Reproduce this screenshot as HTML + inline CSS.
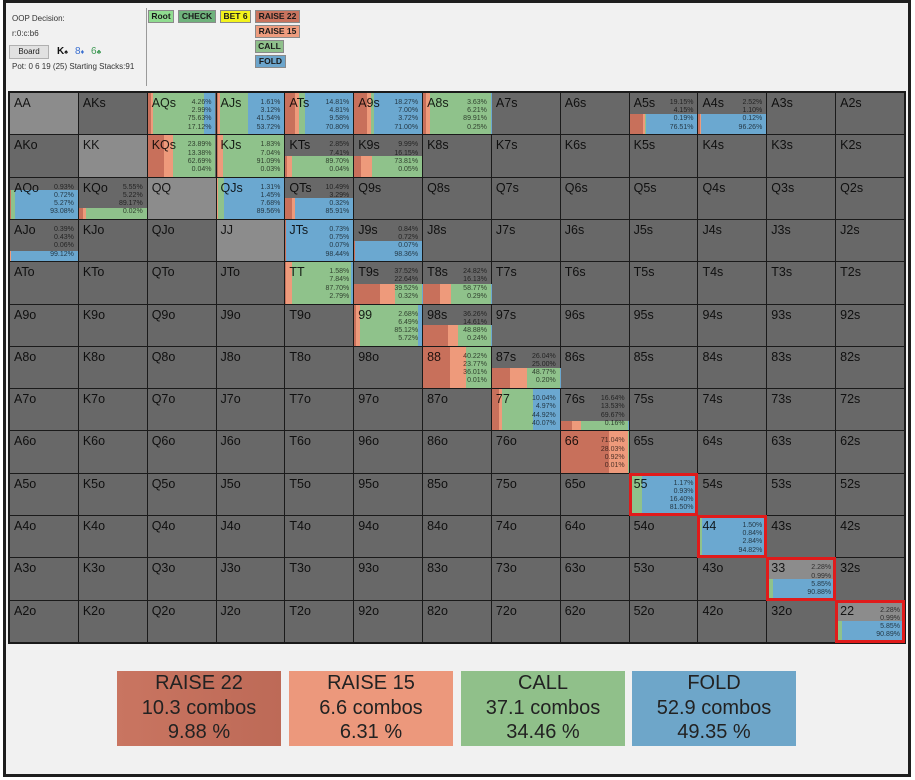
<!DOCTYPE html>
<html><head><meta charset="utf-8">
<style>
*{margin:0;padding:0;box-sizing:border-box}
html,body{width:915px;height:780px;overflow:hidden;background:#fff;font-family:"Liberation Sans",Arial,sans-serif}
.frame{position:absolute;left:3px;top:0;width:908px;height:777px;border:3px solid #1e1e1e;background:#f1f1f1}
.t{position:absolute;font-size:8px;color:#333;white-space:nowrap;line-height:10px}
.sep{position:absolute;left:146px;top:8px;width:1px;height:78px;background:#9a9a9a}
.btn{position:absolute;height:13px;font-size:8.5px;font-weight:bold;line-height:11px;text-align:center;border:1px solid #8a8a8a;color:#1a1a1a}
.grid{position:absolute;left:8px;top:91px;width:898px;height:553px;border:2px solid #1a1a1a;background:#1a1a1a;display:grid;grid-template-columns:repeat(13,1fr);grid-template-rows:repeat(13,1fr);gap:1px}
.c{position:relative;background:#686868;overflow:visible}
.p{background:#8c8c8c}
.b{position:absolute;left:0;right:0;bottom:0;display:flex}
.b i{display:block;height:100%;flex:none}
.r{background:#c8705b}.s{background:#ee9a7b}.g{background:#8fc28b}.f{background:#6ba8d0}
.l{position:absolute;left:4px;top:3px;font-size:12.5px;line-height:14px;color:rgba(0,0,0,.85);z-index:1}
.v{position:absolute;right:4px;top:6px;font-size:7px;line-height:8.2px;text-align:right;color:rgba(0,0,0,.68);z-index:1}
.h{z-index:3}
.h::after{content:"";position:absolute;left:-1px;top:-1px;right:-1px;bottom:-1px;border:3px solid #e01b1b;z-index:5}
.box{position:absolute;top:671px;width:164px;height:75px;text-align:center;font-size:20px;line-height:24.5px;color:#222;padding-top:0}
</style></head><body>
<div class="frame"></div>
<div class="t" style="left:12px;top:14px">OOP Decision:</div>
<div class="t" style="left:12px;top:29px">r:0:c:b6</div>
<div style="position:absolute;left:9px;top:45px;width:40px;height:14px;background:#e1e1e1;border:1px solid #b0b0b0;font-size:8px;line-height:12px;text-align:center;color:#222">Board</div>
<div class="t" style="left:57px;top:46px;font-size:10px;font-weight:bold;color:#111;line-height:12px">K<span style="font-size:7px">♠</span></div>
<div class="t" style="left:75px;top:46px;font-size:10px;color:#3a6fd0;line-height:12px">8<span style="font-size:7px">♦</span></div>
<div class="t" style="left:91px;top:46px;font-size:10px;color:#3f9a55;line-height:12px">6<span style="font-size:7px">♣</span></div>
<div class="t" style="left:12px;top:62px">Pot: 0 6 19 (25) Starting Stacks:91</div>
<div class="sep"></div>
<div class="btn" style="left:148px;top:10px;width:26px;background:#90dc90">Root</div>
<div class="btn" style="left:178px;top:10px;width:38px;background:#6fb27c">CHECK</div>
<div class="btn" style="left:220px;top:10px;width:31px;background:#f3f31c">BET 6</div>
<div class="btn" style="left:255px;top:10px;width:45px;background:#c9735e">RAISE 22</div>
<div class="btn" style="left:255px;top:25px;width:45px;background:#ee9c7e">RAISE 15</div>
<div class="btn" style="left:255px;top:40px;width:29px;background:#8fc08b">CALL</div>
<div class="btn" style="left:255px;top:55px;width:31px;background:#6ca5cc">FOLD</div>

<div class="grid">
<!-- Row A -->
<div class="c p"><span class="l">AA</span></div>
<div class="c"><span class="l">AKs</span></div>
<div class="c"><div class="b" style="height:100%"><i class="r" style="width:4.26%"></i><i class="s" style="width:2.99%"></i><i class="g" style="width:75.63%"></i><i class="f" style="width:17.12%"></i></div><span class="l">AQs</span><span class="v">4.26%<br>2.99%<br>75.63%<br>17.12%</span></div>
<div class="c"><div class="b" style="height:100%"><i class="r" style="width:1.61%"></i><i class="s" style="width:3.12%"></i><i class="g" style="width:41.54%"></i><i class="f" style="width:53.72%"></i></div><span class="l">AJs</span><span class="v">1.61%<br>3.12%<br>41.54%<br>53.72%</span></div>
<div class="c"><div class="b" style="height:100%"><i class="r" style="width:14.81%"></i><i class="s" style="width:4.81%"></i><i class="g" style="width:9.58%"></i><i class="f" style="width:70.80%"></i></div><span class="l">ATs</span><span class="v">14.81%<br>4.81%<br>9.58%<br>70.80%</span></div>
<div class="c"><div class="b" style="height:100%"><i class="r" style="width:18.27%"></i><i class="s" style="width:7.00%"></i><i class="g" style="width:3.72%"></i><i class="f" style="width:71.00%"></i></div><span class="l">A9s</span><span class="v">18.27%<br>7.00%<br>3.72%<br>71.00%</span></div>
<div class="c"><div class="b" style="height:100%"><i class="r" style="width:3.63%"></i><i class="s" style="width:6.21%"></i><i class="g" style="width:89.91%"></i><i class="f" style="width:0.25%"></i></div><span class="l">A8s</span><span class="v">3.63%<br>6.21%<br>89.91%<br>0.25%</span></div>
<div class="c"><span class="l">A7s</span></div>
<div class="c"><span class="l">A6s</span></div>
<div class="c"><div class="b" style="height:50%"><i class="r" style="width:19.15%"></i><i class="s" style="width:4.15%"></i><i class="g" style="width:0.19%"></i><i class="f" style="width:76.51%"></i></div><span class="l">A5s</span><span class="v">19.15%<br>4.15%<br>0.19%<br>76.51%</span></div>
<div class="c"><div class="b" style="height:50%"><i class="r" style="width:2.52%"></i><i class="s" style="width:1.10%"></i><i class="g" style="width:0.12%"></i><i class="f" style="width:96.26%"></i></div><span class="l">A4s</span><span class="v">2.52%<br>1.10%<br>0.12%<br>96.26%</span></div>
<div class="c"><span class="l">A3s</span></div>
<div class="c"><span class="l">A2s</span></div>
<!-- Row K -->
<div class="c"><span class="l">AKo</span></div>
<div class="c p"><span class="l">KK</span></div>
<div class="c"><div class="b" style="height:100%"><i class="r" style="width:23.89%"></i><i class="s" style="width:13.38%"></i><i class="g" style="width:62.69%"></i><i class="f" style="width:0.04%"></i></div><span class="l">KQs</span><span class="v">23.89%<br>13.38%<br>62.69%<br>0.04%</span></div>
<div class="c"><div class="b" style="height:100%"><i class="r" style="width:1.83%"></i><i class="s" style="width:7.04%"></i><i class="g" style="width:91.09%"></i><i class="f" style="width:0.03%"></i></div><span class="l">KJs</span><span class="v">1.83%<br>7.04%<br>91.09%<br>0.03%</span></div>
<div class="c"><div class="b" style="height:49%"><i class="r" style="width:2.85%"></i><i class="s" style="width:7.41%"></i><i class="g" style="width:89.70%"></i><i class="f" style="width:0.04%"></i></div><span class="l">KTs</span><span class="v">2.85%<br>7.41%<br>89.70%<br>0.04%</span></div>
<div class="c"><div class="b" style="height:49%"><i class="r" style="width:9.99%"></i><i class="s" style="width:16.15%"></i><i class="g" style="width:73.81%"></i><i class="f" style="width:0.05%"></i></div><span class="l">K9s</span><span class="v">9.99%<br>16.15%<br>73.81%<br>0.05%</span></div>
<div class="c"><span class="l">K8s</span></div>
<div class="c"><span class="l">K7s</span></div>
<div class="c"><span class="l">K6s</span></div>
<div class="c"><span class="l">K5s</span></div>
<div class="c"><span class="l">K4s</span></div>
<div class="c"><span class="l">K3s</span></div>
<div class="c"><span class="l">K2s</span></div>
<!-- Row Q -->
<div class="c"><div class="b" style="height:69%"><i class="r" style="width:0.93%"></i><i class="s" style="width:0.72%"></i><i class="g" style="width:5.27%"></i><i class="f" style="width:93.08%"></i></div><span class="l">AQo</span><span class="v">0.93%<br>0.72%<br>5.27%<br>93.08%</span></div>
<div class="c"><div class="b" style="height:26%"><i class="r" style="width:5.55%"></i><i class="s" style="width:5.22%"></i><i class="g" style="width:89.17%"></i><i class="f" style="width:0.02%"></i></div><span class="l">KQo</span><span class="v">5.55%<br>5.22%<br>89.17%<br>0.02%</span></div>
<div class="c p"><span class="l">QQ</span></div>
<div class="c"><div class="b" style="height:100%"><i class="r" style="width:1.31%"></i><i class="s" style="width:1.45%"></i><i class="g" style="width:7.68%"></i><i class="f" style="width:89.56%"></i></div><span class="l">QJs</span><span class="v">1.31%<br>1.45%<br>7.68%<br>89.56%</span></div>
<div class="c"><div class="b" style="height:50%"><i class="r" style="width:10.49%"></i><i class="s" style="width:3.29%"></i><i class="g" style="width:0.32%"></i><i class="f" style="width:85.91%"></i></div><span class="l">QTs</span><span class="v">10.49%<br>3.29%<br>0.32%<br>85.91%</span></div>
<div class="c"><span class="l">Q9s</span></div>
<div class="c"><span class="l">Q8s</span></div>
<div class="c"><span class="l">Q7s</span></div>
<div class="c"><span class="l">Q6s</span></div>
<div class="c"><span class="l">Q5s</span></div>
<div class="c"><span class="l">Q4s</span></div>
<div class="c"><span class="l">Q3s</span></div>
<div class="c"><span class="l">Q2s</span></div>
<!-- Row J -->
<div class="c"><div class="b" style="height:24%"><i class="r" style="width:0.39%"></i><i class="s" style="width:0.43%"></i><i class="g" style="width:0.06%"></i><i class="f" style="width:99.12%"></i></div><span class="l">AJo</span><span class="v">0.39%<br>0.43%<br>0.06%<br>99.12%</span></div>
<div class="c"><span class="l">KJo</span></div>
<div class="c"><span class="l">QJo</span></div>
<div class="c p"><span class="l">JJ</span></div>
<div class="c"><div class="b" style="height:100%"><i class="r" style="width:0.73%"></i><i class="s" style="width:0.75%"></i><i class="g" style="width:0.07%"></i><i class="f" style="width:98.44%"></i></div><span class="l">JTs</span><span class="v">0.73%<br>0.75%<br>0.07%<br>98.44%</span></div>
<div class="c"><div class="b" style="height:48%"><i class="r" style="width:0.84%"></i><i class="s" style="width:0.72%"></i><i class="g" style="width:0.07%"></i><i class="f" style="width:98.36%"></i></div><span class="l">J9s</span><span class="v">0.84%<br>0.72%<br>0.07%<br>98.36%</span></div>
<div class="c"><span class="l">J8s</span></div>
<div class="c"><span class="l">J7s</span></div>
<div class="c"><span class="l">J6s</span></div>
<div class="c"><span class="l">J5s</span></div>
<div class="c"><span class="l">J4s</span></div>
<div class="c"><span class="l">J3s</span></div>
<div class="c"><span class="l">J2s</span></div>
<!-- Row T -->
<div class="c"><span class="l">ATo</span></div>
<div class="c"><span class="l">KTo</span></div>
<div class="c"><span class="l">QTo</span></div>
<div class="c"><span class="l">JTo</span></div>
<div class="c p"><div class="b" style="height:100%"><i class="r" style="width:1.58%"></i><i class="s" style="width:7.84%"></i><i class="g" style="width:87.70%"></i><i class="f" style="width:2.79%"></i></div><span class="l">TT</span><span class="v">1.58%<br>7.84%<br>87.70%<br>2.79%</span></div>
<div class="c"><div class="b" style="height:48%"><i class="r" style="width:37.52%"></i><i class="s" style="width:22.64%"></i><i class="g" style="width:39.52%"></i><i class="f" style="width:0.32%"></i></div><span class="l">T9s</span><span class="v">37.52%<br>22.64%<br>39.52%<br>0.32%</span></div>
<div class="c"><div class="b" style="height:48%"><i class="r" style="width:24.82%"></i><i class="s" style="width:16.13%"></i><i class="g" style="width:58.77%"></i><i class="f" style="width:0.28%"></i></div><span class="l">T8s</span><span class="v">24.82%<br>16.13%<br>58.77%<br>0.29%</span></div>
<div class="c"><span class="l">T7s</span></div>
<div class="c"><span class="l">T6s</span></div>
<div class="c"><span class="l">T5s</span></div>
<div class="c"><span class="l">T4s</span></div>
<div class="c"><span class="l">T3s</span></div>
<div class="c"><span class="l">T2s</span></div>
<!-- Row 9 -->
<div class="c"><span class="l">A9o</span></div>
<div class="c"><span class="l">K9o</span></div>
<div class="c"><span class="l">Q9o</span></div>
<div class="c"><span class="l">J9o</span></div>
<div class="c"><span class="l">T9o</span></div>
<div class="c p"><div class="b" style="height:100%"><i class="r" style="width:2.68%"></i><i class="s" style="width:6.49%"></i><i class="g" style="width:85.11%"></i><i class="f" style="width:5.72%"></i></div><span class="l">99</span><span class="v">2.68%<br>6.49%<br>85.12%<br>5.72%</span></div>
<div class="c"><div class="b" style="height:50%"><i class="r" style="width:36.26%"></i><i class="s" style="width:14.61%"></i><i class="g" style="width:48.89%"></i><i class="f" style="width:0.24%"></i></div><span class="l">98s</span><span class="v">36.26%<br>14.61%<br>48.88%<br>0.24%</span></div>
<div class="c"><span class="l">97s</span></div>
<div class="c"><span class="l">96s</span></div>
<div class="c"><span class="l">95s</span></div>
<div class="c"><span class="l">94s</span></div>
<div class="c"><span class="l">93s</span></div>
<div class="c"><span class="l">92s</span></div>
<!-- Row 8 -->
<div class="c"><span class="l">A8o</span></div>
<div class="c"><span class="l">K8o</span></div>
<div class="c"><span class="l">Q8o</span></div>
<div class="c"><span class="l">J8o</span></div>
<div class="c"><span class="l">T8o</span></div>
<div class="c"><span class="l">98o</span></div>
<div class="c p"><div class="b" style="height:100%"><i class="r" style="width:40.22%"></i><i class="s" style="width:23.77%"></i><i class="g" style="width:36.00%"></i><i class="f" style="width:0.01%"></i></div><span class="l">88</span><span class="v">40.22%<br>23.77%<br>36.01%<br>0.01%</span></div>
<div class="c"><div class="b" style="height:50%"><i class="r" style="width:26.04%"></i><i class="s" style="width:25.00%"></i><i class="g" style="width:48.76%"></i><i class="f" style="width:0.20%"></i></div><span class="l">87s</span><span class="v">26.04%<br>25.00%<br>48.77%<br>0.20%</span></div>
<div class="c"><span class="l">86s</span></div>
<div class="c"><span class="l">85s</span></div>
<div class="c"><span class="l">84s</span></div>
<div class="c"><span class="l">83s</span></div>
<div class="c"><span class="l">82s</span></div>
<!-- Row 7 -->
<div class="c"><span class="l">A7o</span></div>
<div class="c"><span class="l">K7o</span></div>
<div class="c"><span class="l">Q7o</span></div>
<div class="c"><span class="l">J7o</span></div>
<div class="c"><span class="l">T7o</span></div>
<div class="c"><span class="l">97o</span></div>
<div class="c"><span class="l">87o</span></div>
<div class="c p"><div class="b" style="height:100%"><i class="r" style="width:10.04%"></i><i class="s" style="width:4.97%"></i><i class="g" style="width:44.92%"></i><i class="f" style="width:40.07%"></i></div><span class="l">77</span><span class="v">10.04%<br>4.97%<br>44.92%<br>40.07%</span></div>
<div class="c"><div class="b" style="height:24%"><i class="r" style="width:16.64%"></i><i class="s" style="width:13.53%"></i><i class="g" style="width:69.67%"></i><i class="f" style="width:0.16%"></i></div><span class="l">76s</span><span class="v">16.64%<br>13.53%<br>69.67%<br>0.16%</span></div>
<div class="c"><span class="l">75s</span></div>
<div class="c"><span class="l">74s</span></div>
<div class="c"><span class="l">73s</span></div>
<div class="c"><span class="l">72s</span></div>
<!-- Row 6 -->
<div class="c"><span class="l">A6o</span></div>
<div class="c"><span class="l">K6o</span></div>
<div class="c"><span class="l">Q6o</span></div>
<div class="c"><span class="l">J6o</span></div>
<div class="c"><span class="l">T6o</span></div>
<div class="c"><span class="l">96o</span></div>
<div class="c"><span class="l">86o</span></div>
<div class="c"><span class="l">76o</span></div>
<div class="c p"><div class="b" style="height:100%"><i class="r" style="width:71.04%"></i><i class="s" style="width:28.03%"></i><i class="g" style="width:0.92%"></i><i class="f" style="width:0.01%"></i></div><span class="l">66</span><span class="v">71.04%<br>28.03%<br>0.92%<br>0.01%</span></div>
<div class="c"><span class="l">65s</span></div>
<div class="c"><span class="l">64s</span></div>
<div class="c"><span class="l">63s</span></div>
<div class="c"><span class="l">62s</span></div>
<!-- Row 5 -->
<div class="c"><span class="l">A5o</span></div>
<div class="c"><span class="l">K5o</span></div>
<div class="c"><span class="l">Q5o</span></div>
<div class="c"><span class="l">J5o</span></div>
<div class="c"><span class="l">T5o</span></div>
<div class="c"><span class="l">95o</span></div>
<div class="c"><span class="l">85o</span></div>
<div class="c"><span class="l">75o</span></div>
<div class="c"><span class="l">65o</span></div>
<div class="c p h"><div class="b" style="height:100%"><i class="r" style="width:1.17%"></i><i class="s" style="width:0.93%"></i><i class="g" style="width:16.40%"></i><i class="f" style="width:81.50%"></i></div><span class="l">55</span><span class="v">1.17%<br>0.93%<br>16.40%<br>81.50%</span></div>
<div class="c"><span class="l">54s</span></div>
<div class="c"><span class="l">53s</span></div>
<div class="c"><span class="l">52s</span></div>
<!-- Row 4 -->
<div class="c"><span class="l">A4o</span></div>
<div class="c"><span class="l">K4o</span></div>
<div class="c"><span class="l">Q4o</span></div>
<div class="c"><span class="l">J4o</span></div>
<div class="c"><span class="l">T4o</span></div>
<div class="c"><span class="l">94o</span></div>
<div class="c"><span class="l">84o</span></div>
<div class="c"><span class="l">74o</span></div>
<div class="c"><span class="l">64o</span></div>
<div class="c"><span class="l">54o</span></div>
<div class="c p h"><div class="b" style="height:100%"><i class="r" style="width:1.50%"></i><i class="s" style="width:0.84%"></i><i class="g" style="width:2.84%"></i><i class="f" style="width:94.82%"></i></div><span class="l">44</span><span class="v">1.50%<br>0.84%<br>2.84%<br>94.82%</span></div>
<div class="c"><span class="l">43s</span></div>
<div class="c"><span class="l">42s</span></div>
<!-- Row 3 -->
<div class="c"><span class="l">A3o</span></div>
<div class="c"><span class="l">K3o</span></div>
<div class="c"><span class="l">Q3o</span></div>
<div class="c"><span class="l">J3o</span></div>
<div class="c"><span class="l">T3o</span></div>
<div class="c"><span class="l">93o</span></div>
<div class="c"><span class="l">83o</span></div>
<div class="c"><span class="l">73o</span></div>
<div class="c"><span class="l">63o</span></div>
<div class="c"><span class="l">53o</span></div>
<div class="c"><span class="l">43o</span></div>
<div class="c p h"><div class="b" style="height:50%"><i class="r" style="width:2.28%"></i><i class="s" style="width:0.99%"></i><i class="g" style="width:5.85%"></i><i class="f" style="width:90.88%"></i></div><span class="l">33</span><span class="v">2.28%<br>0.99%<br>5.85%<br>90.88%</span></div>
<div class="c"><span class="l">32s</span></div>
<!-- Row 2 -->
<div class="c"><span class="l">A2o</span></div>
<div class="c"><span class="l">K2o</span></div>
<div class="c"><span class="l">Q2o</span></div>
<div class="c"><span class="l">J2o</span></div>
<div class="c"><span class="l">T2o</span></div>
<div class="c"><span class="l">92o</span></div>
<div class="c"><span class="l">82o</span></div>
<div class="c"><span class="l">72o</span></div>
<div class="c"><span class="l">62o</span></div>
<div class="c"><span class="l">52o</span></div>
<div class="c"><span class="l">42o</span></div>
<div class="c"><span class="l">32o</span></div>
<div class="c p h"><div class="b" style="height:50%"><i class="r" style="width:2.28%"></i><i class="s" style="width:0.99%"></i><i class="g" style="width:5.85%"></i><i class="f" style="width:90.88%"></i></div><span class="l">22</span><span class="v">2.28%<br>0.99%<br>5.85%<br>90.89%</span></div>
</div>

<div class="box" style="left:117px;background:linear-gradient(90deg,#c97561,#bd6a57)">RAISE 22<br>10.3 combos<br>9.88 %</div>
<div class="box" style="left:289px;background:#ec987c">RAISE 15<br>6.6 combos<br>6.31 %</div>
<div class="box" style="left:461px;background:#90c08a">CALL<br>37.1 combos<br>34.46 %</div>
<div class="box" style="left:632px;background:#6ea6c9">FOLD<br>52.9 combos<br>49.35 %</div>
</body></html>
